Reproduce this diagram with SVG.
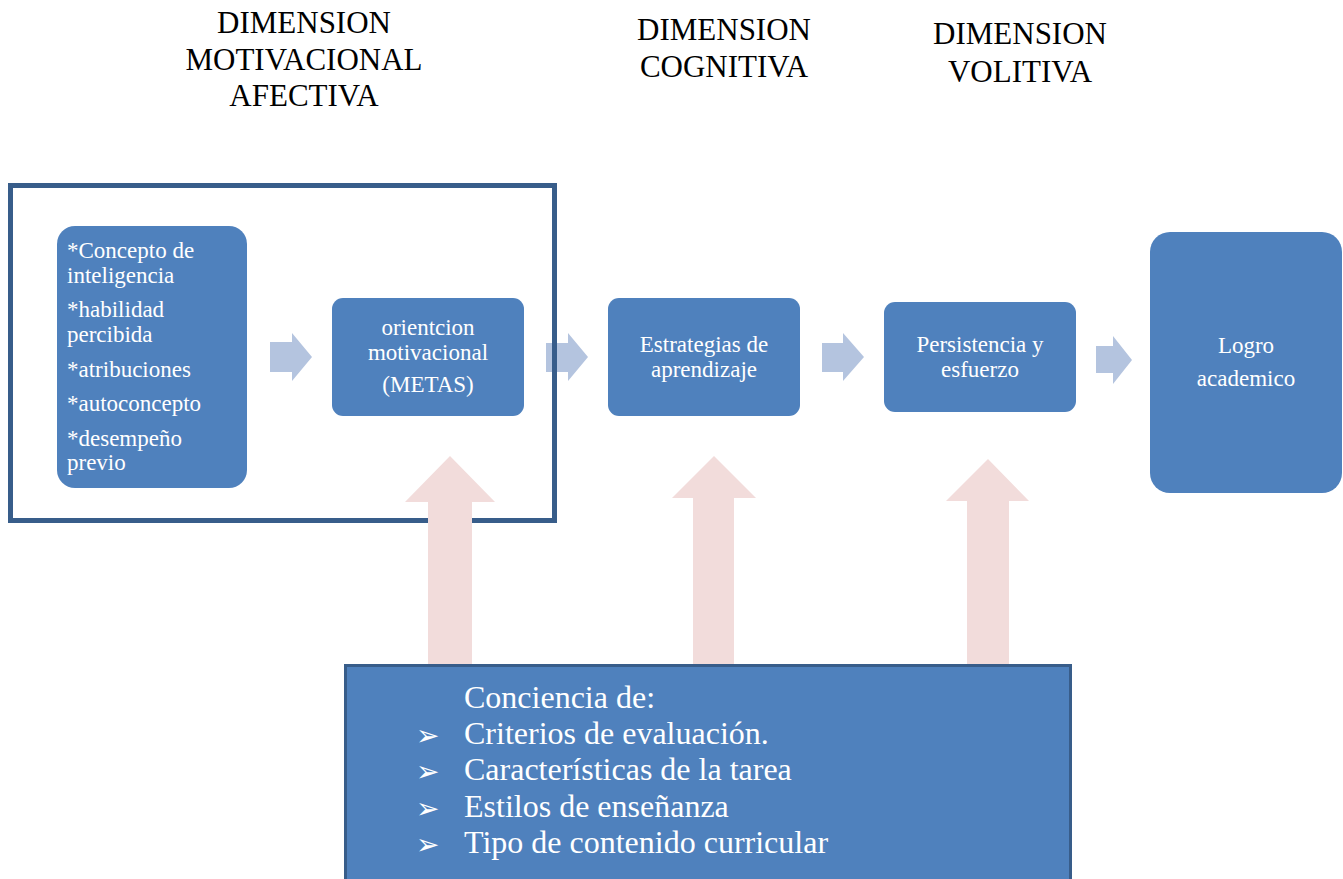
<svg xmlns="http://www.w3.org/2000/svg" width="1343" height="879" viewBox="0 0 1343 879">
<style>
.title{font-family:"Liberation Serif","Times New Roman",serif;font-size:31px;fill:#000;text-anchor:middle}
.node{fill:#4f81bd}
.nt{font-family:"Liberation Serif","Times New Roman",serif;font-size:23px;fill:#fff}
.ntc{font-family:"Liberation Serif","Times New Roman",serif;font-size:23px;fill:#fff;text-anchor:middle}
.flow{fill:#b4c4df}
.up{fill:#f2dcdb}
.bt{font-family:"Liberation Serif","Times New Roman",serif;font-size:32px;fill:#fff}
.bul{font-family:"DejaVu Sans",sans-serif;font-size:28px;fill:#fff}
</style>
<rect width="1343" height="879" fill="#fff"/>
<g id="titles">
<text class="title" x="304" y="33">DIMENSION</text>
<text class="title" x="304" y="70">MOTIVACIONAL</text>
<text class="title" x="304" y="106">AFECTIVA</text>
<text class="title" x="724" y="40">DIMENSION</text>
<text class="title" x="724" y="77">COGNITIVA</text>
<text class="title" x="1020" y="44">DIMENSION</text>
<text class="title" x="1020" y="82">VOLITIVA</text>
</g>
<g id="connectors">
<polygon class="flow" points="270,342 292,342 292,333 312,357 292,381 292,372 270,372"/>
<polygon class="flow" points="546,343 568,343 568,333 588,357 568,381 568,372 546,372"/>
<polygon class="flow" points="822,343 843,343 843,333 864,357 843,381 843,372 822,372"/>
<polygon class="flow" points="1096,346 1113,346 1113,336 1132,360 1113,384 1113,373 1096,373"/>
</g>
<g id="frame">
<rect x="10.5" y="185.5" width="544" height="335" fill="none" stroke="#385d8a" stroke-width="5"/>
</g>
<g id="up-arrows">
<polygon class="up" points="428,668 428,502 405,502 450,456 495,502 472,502 472,668"/>
<polygon class="up" points="693,668 693,498 672,498 714,456 756,498 734,498 734,668"/>
<polygon class="up" points="967,668 967,501 946,501 988,459 1029,501 1009,501 1009,668"/>
</g>
<g id="node-factores">
<rect class="node" x="57" y="226" width="190" height="262" rx="18"/>
<text class="nt" x="67" y="258">*Concepto de</text>
<text class="nt" x="67" y="283">inteligencia</text>
<text class="nt" x="67" y="317">*habilidad</text>
<text class="nt" x="67" y="342">percibida</text>
<text class="nt" x="67" y="377">*atribuciones</text>
<text class="nt" x="67" y="411">*autoconcepto</text>
<text class="nt" x="67" y="446">*desempeño</text>
<text class="nt" x="67" y="470">previo</text>
</g>
<g id="node-orientacion">
<rect class="node" x="332" y="298" width="192" height="118" rx="11"/>
<text class="ntc" x="428" y="335">orientcion</text>
<text class="ntc" x="428" y="360">motivacional</text>
<text class="ntc" x="428" y="392">(METAS)</text>
</g>
<g id="node-estrategias">
<rect class="node" x="608" y="298" width="192" height="118" rx="11"/>
<text class="ntc" x="704" y="352">Estrategias de</text>
<text class="ntc" x="704" y="377">aprendizaje</text>
</g>
<g id="node-persistencia">
<rect class="node" x="884" y="302" width="192" height="110" rx="11"/>
<text class="ntc" x="980" y="352">Persistencia y</text>
<text class="ntc" x="980" y="377">esfuerzo</text>
</g>
<g id="node-logro">
<rect class="node" x="1150" y="232" width="192" height="261" rx="20"/>
<text class="ntc" x="1246" y="353">Logro</text>
<text class="ntc" x="1246" y="386">academico</text>
</g>
<g id="node-conciencia">
<rect class="node" x="345.5" y="665.5" width="725" height="230" stroke="#385d8a" stroke-width="3"/>
<text class="bt" x="464" y="708">Conciencia de:</text>
<text class="bul" x="416" y="745">➢</text>
<text class="bt" x="464" y="744">Criterios de evaluación.</text>
<text class="bul" x="416" y="781">➢</text>
<text class="bt" x="464" y="780">Características de la tarea</text>
<text class="bul" x="416" y="818">➢</text>
<text class="bt" x="464" y="817">Estilos de enseñanza</text>
<text class="bul" x="416" y="854">➢</text>
<text class="bt" x="464" y="853">Tipo de contenido curricular</text>
</g>
</svg>
